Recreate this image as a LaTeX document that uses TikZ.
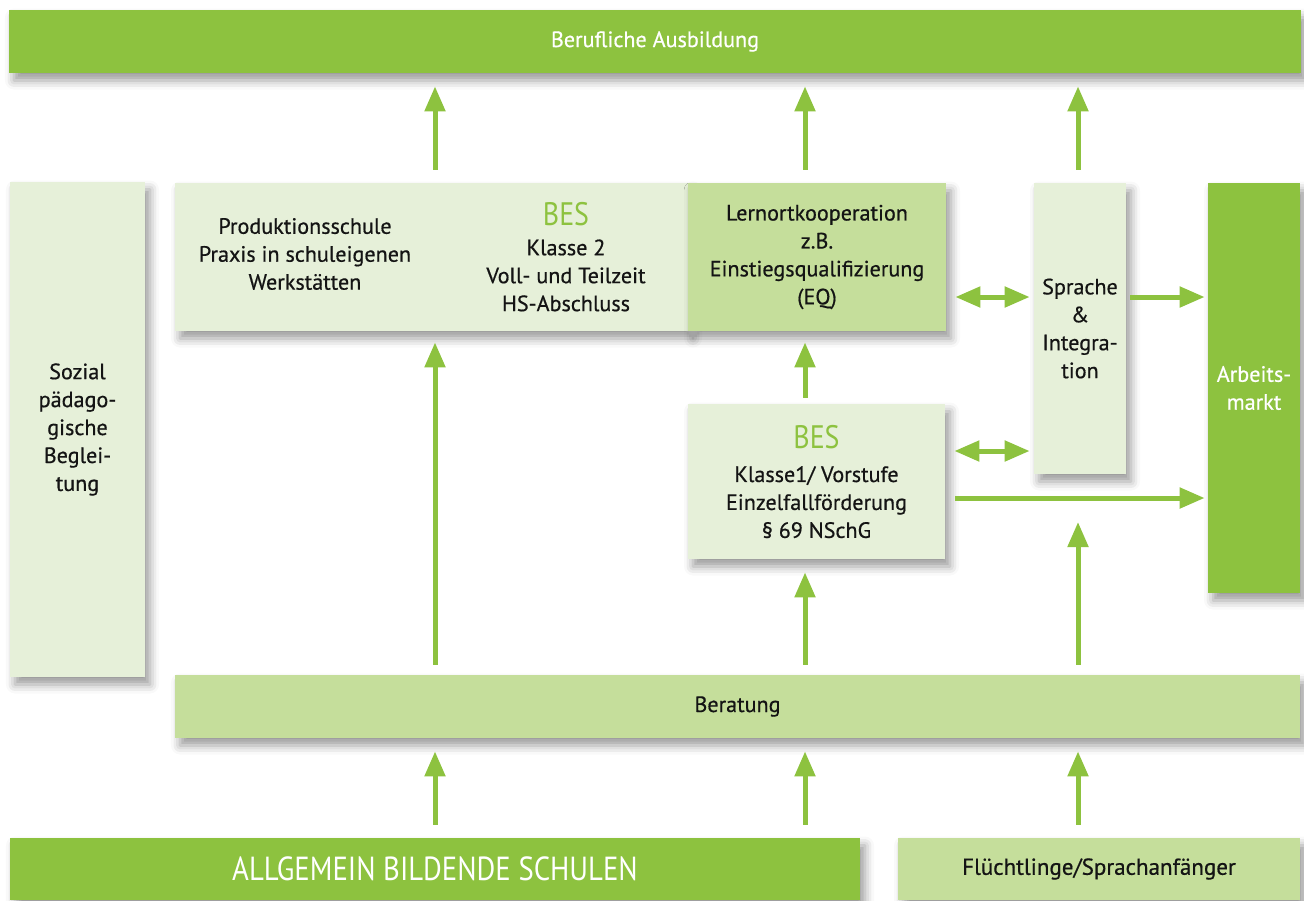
\documentclass[tikz,border=0pt]{standalone}
\usepackage{fontspec}
\setmainfont{PT Sans}[FakeBold=0.6]
\newfontfamily\narrowfont{PT Sans}[FakeStretch=0.86]
\usetikzlibrary{arrows.meta, positioning, shadows.blur}

\definecolor{darkgreen}{HTML}{8DC23F}
\definecolor{midgreen}{HTML}{C5DE9B}
\definecolor{palegreen}{HTML}{E6F0D9}
\definecolor{ink}{HTML}{141414}

\tikzset{
  box/.style={rectangle, inner sep=0pt, align=center, text=ink,
    font=\fontsize{12.6}{15.9}\selectfont,
    blur shadow={shadow xshift=1mm, shadow yshift=-1.5mm, shadow blur radius=1.8mm, shadow opacity=40}},
  darkbox/.style={box, fill=darkgreen, text=white},
  midbox/.style={box, fill=midgreen},
  palebox/.style={box, fill=palegreen},
  label/.style={align=center, text=ink, inner sep=0pt, font=\fontsize{12.6}{15.9}\selectfont},
  flow/.style={draw=darkgreen, line width=1mm, -{Triangle[width=4mm,length=5mm]},
    shorten <=2.6mm, shorten >=2.6mm},
  twoway/.style={flow, {Triangle[width=4mm,length=5mm]}-{Triangle[width=4mm,length=5mm]},
    shorten <=1.8mm, shorten >=0.8mm},
}
\newcommand{\besmark}{\textcolor{darkgreen}{\narrowfont\fontsize{18.5}{20}\selectfont BES}}

\begin{document}
\begin{tikzpicture}[x=0.2mm, y=-0.2mm]
\useasboundingbox (0,0) rectangle (1304,900);

% boxes
\node[darkbox, minimum width=258.4mm, minimum height=12.6mm] (top) at (655,41.5) {Berufliche Ausbildung};
\node[palebox, minimum width=27mm, minimum height=99mm] (soz) at (77.5,429.5)
  {Sozial\\pädago-\\gische\\Beglei-\\tung};
\node[palebox, minimum width=102.6mm, minimum height=29.6mm] (prodbox) at (431.5,257) {};
\node[midbox, minimum width=51.6mm, minimum height=29.6mm] (eq) at (817,257)
  {Lernortkooperation\\z.B.\\Einstiegsqualifizierung\\(EQ)};
\node[label] (prod) at (305,254) {Produktionsschule\\Praxis in schuleigenen\\Werkstätten};
\node[label] (bes2) at (566,257) {\besmark\\[0.3mm] Klasse 2\\Voll- und Teilzeit\\HS-Abschluss};
\node[palebox, minimum width=18.4mm, minimum height=58.2mm] (spr) at (1080,328.5)
  {Sprache\\\&\\Integra-\\tion};
\node[darkbox, minimum width=18.4mm, minimum height=82mm] (arb) at (1254,388) {Arbeits-\\markt};
\node[palebox, minimum width=51.4mm, minimum height=31mm] (bes1) at (816.5,481.5)
  {\besmark\\[1.2mm] Klasse1/ Vorstufe\\Einzelfallförderung\\§ 69 NSchG};
\node[midbox, minimum width=225mm, minimum height=12.6mm] (ber) at (737.5,706.5) {Beratung};
\node[darkbox, minimum width=170mm, minimum height=12.4mm, font=\narrowfont\fontsize{19}{22}\selectfont] (abs) at (435,869)
  {ALLGEMEIN BILDENDE SCHULEN};
\node[midbox, minimum width=80.4mm, minimum height=12.4mm, font=\fontsize{13.1}{15}\selectfont] (fl) at (1099,869)
  {Flüchtlinge/Sprachanfänger};

% arrow columns and rows
\coordinate (c1) at (435,0);
\coordinate (c2) at (805,0);
\coordinate (c3) at (1078,0);
\coordinate (r1) at (0,297);
\coordinate (r2) at (0,451);
\coordinate (r3) at (0,498);
\coordinate (hit) at (1078,522);

\draw[flow] (prodbox.north -| c1) -- (top.south -| c1);
\draw[flow] (eq.north -| c2) -- (top.south -| c2);
\draw[flow] (spr.north -| c3) -- (top.south -| c3);

\draw[flow] (abs.north -| c1) -- (ber.south -| c1);
\draw[flow] (abs.north -| c2) -- (ber.south -| c2);
\draw[flow] (fl.north -| c3) -- (ber.south -| c3);

\draw[flow, shorten <=2mm, shorten >=2.2mm] (ber.north -| c1) -- (prodbox.south -| c1);
\draw[flow, shorten <=2mm] (ber.north -| c2) -- (bes1.south -| c2);
\draw[flow, shorten <=1.2mm, shorten >=2.2mm] (bes1.north -| c2) -- (eq.south -| c2);
\draw[flow, shorten <=2mm, shorten >=0pt] (ber.north -| c3) -- (hit);

\draw[twoway] (eq.east |- r1) -- (spr.west |- r1);
\draw[twoway] (bes1.east |- r2) -- (spr.west |- r2);
\draw[flow, shorten <=0.8mm, shorten >=0.6mm] (spr.east |- r1) -- (arb.west |- r1);
\draw[flow, shorten <=2mm, shorten >=0.6mm] (bes1.east |- r3) -- (arb.west |- r3);
\end{tikzpicture}
\end{document}
